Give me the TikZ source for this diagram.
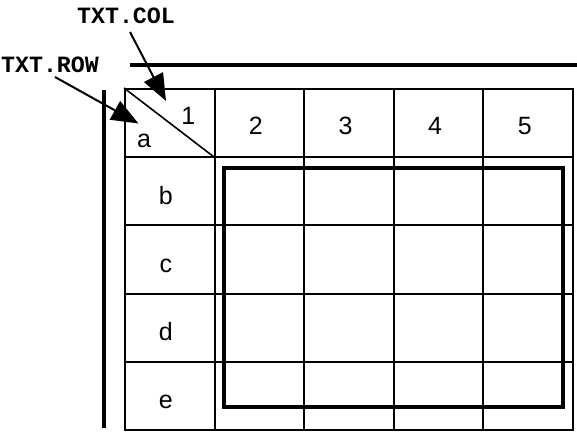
\documentclass[tikz,border=0pt]{standalone}
\usepackage{fontspec}
\setmainfont{Liberation Sans}
\newfontfamily\codefont{Liberation Mono}
\usetikzlibrary{arrows.meta}
\tikzstyle{box}=[rectangle,draw=black,line width=2pt,minimum width=89.6pt,minimum height=68.2pt,inner sep=0pt,anchor=center]
\tikzstyle{annot}=[align=center,inner sep=0pt,anchor=base,font=\fontsize{25}{30}\selectfont]
\tikzstyle{code}=[inner sep=0pt,anchor=base,font=\codefont\bfseries\fontsize{23.3}{28}\selectfont]
\tikzstyle{heavy}=[line width=3.4pt]
\tikzstyle{pointer}=[line width=2pt,-{Triangle[length=27pt,width=21pt]}]

\begin{document}
\begin{tikzpicture}[x=1pt,y=-1pt]
	\useasboundingbox (0,0) rectangle (577,431);

	\foreach \c in {0,...,4}
		\foreach \r in {0,...,4}
			\node[box] (cell\c\r) at (169.8+89.6*\c, 123.1+68.2*\r) {};

	\draw[line width=1.6pt] (cell00.north west) -- (cell00.south east);
	\node[annot] (corner1) at (188.3,124.3) {1};
	\node[annot] (cornera) at (144,147.7) {a};
	\foreach \c/\t in {1/2,2/3,3/4,4/5}
		\node[annot, xshift=-3.5pt, yshift=-11pt] (head\c) at (cell\c0) {\t};
	\foreach \r/\t in {1/b,2/c,3/d,4/e}
		\node[annot, xshift=-4pt, yshift=-12.8pt] (side\r) at (cell0\r) {\t};

	\node[box, heavy, minimum width=339pt, minimum height=239pt] (frame) at (393.5,287.5) {};

	\coordinate (ruleL) at (130,65);
	\coordinate (ruleR) at (577,65);
	\coordinate (barT) at (104,90);
	\coordinate (barB) at (104,428);
	\draw[heavy] (ruleL) -- (ruleR);
	\draw[heavy] (barT) -- (barB);

	\node[code] (colLabel) at (126,23.3) {TXT.COL};
	\node[code] (rowLabel) at (50,72) {TXT.ROW};
	\coordinate (colTip) at (166,101);
	\coordinate (rowTip) at (138.5,123.5);
	\draw[pointer] ([xshift=4pt,yshift=-8.7pt]colLabel.base) -- (colTip);
	\draw[pointer] ([xshift=5pt,yshift=-5pt]rowLabel.base) -- (rowTip);

\end{tikzpicture}
\end{document}
